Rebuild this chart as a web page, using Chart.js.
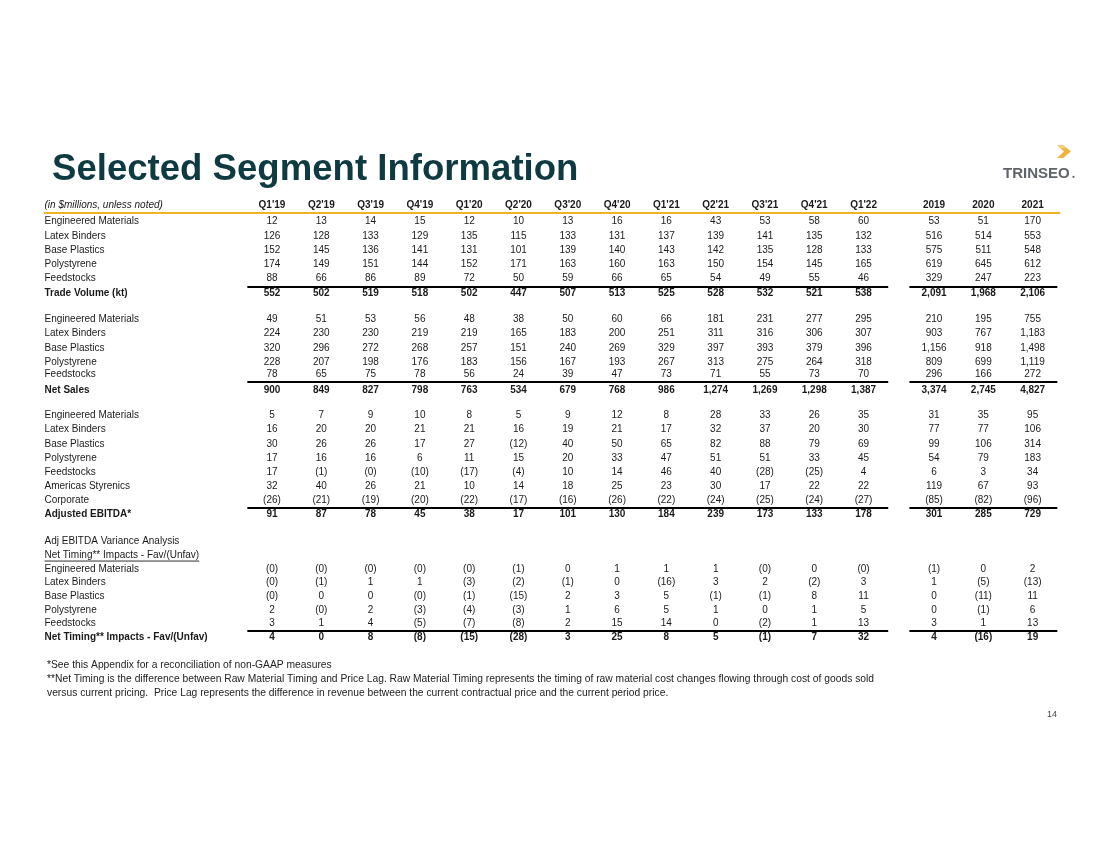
<!DOCTYPE html>
<html><head><meta charset="utf-8">
<script src="https://cdn.jsdelivr.net/npm/chart.js@4.4.1/dist/chart.umd.min.js"></script>
<style>html,body{margin:0;padding:0;background:#fff;}canvas{display:block}</style>
</head><body>
<canvas id="c" width="1100" height="849"></canvas>
<script>
// ---------- DATA ----------
const quarters = ["Q1'19","Q2'19","Q3'19","Q4'19","Q1'20","Q2'20","Q3'20","Q4'20","Q1'21","Q2'21","Q3'21","Q4'21","Q1'22"];
const years = ["2019","2020","2021"];

// Trade volume (kt)
const volEngineered = [12,13,14,15,12,10,13,16,16,43,53,58,60, 53,51,170];
const volLatex      = [126,128,133,129,135,115,133,131,137,139,141,135,132, 516,514,553];
const volBase       = [152,145,136,141,131,101,139,140,143,142,135,128,133, 575,511,548];
const volPoly       = [174,149,151,144,152,171,163,160,163,150,154,145,165, 619,645,612];
const volFeed       = [88,66,86,89,72,50,59,66,65,54,49,55,46, 329,247,223];
const volTotal      = [552,502,519,518,502,447,507,513,525,528,532,521,538, 2091,1968,2106];

// Net sales
const salesEngineered = [49,51,53,56,48,38,50,60,66,181,231,277,295, 210,195,755];
const salesLatex      = [224,230,230,219,219,165,183,200,251,311,316,306,307, 903,767,1183];
const salesBase       = [320,296,272,268,257,151,240,269,329,397,393,379,396, 1156,918,1498];
const salesPoly       = [228,207,198,176,183,156,167,193,267,313,275,264,318, 809,699,1119];
const salesFeed       = [78,65,75,78,56,24,39,47,73,71,55,73,70, 296,166,272];
const salesTotal      = [900,849,827,798,763,534,679,768,986,1274,1269,1298,1387, 3374,2745,4827];

// Adjusted EBITDA
const ebitdaEngineered = [5,7,9,10,8,5,9,12,8,28,33,26,35, 31,35,95];
const ebitdaLatex      = [16,20,20,21,21,16,19,21,17,32,37,20,30, 77,77,106];
const ebitdaBase       = [30,26,26,17,27,-12,40,50,65,82,88,79,69, 99,106,314];
const ebitdaPoly       = [17,16,16,6,11,15,20,33,47,51,51,33,45, 54,79,183];
const ebitdaFeed       = [17,-1,-0,-10,-17,-4,10,14,46,40,-28,-25,4, 6,3,34];
const ebitdaAmericas   = [32,40,26,21,10,14,18,25,23,30,17,22,22, 119,67,93];
const ebitdaCorporate  = [-26,-21,-19,-20,-22,-17,-16,-26,-22,-24,-25,-24,-27, -85,-82,-96];
const ebitdaTotal      = [91,87,78,45,38,17,101,130,184,239,173,133,178, 301,285,729];

// Net timing impacts - Fav/(Unfav)
const timingEngineered = [-0,-0,-0,-0,-0,-1,0,1,1,1,-0,0,-0, -1,0,2];
const timingLatex      = [-0,-1,1,1,-3,-2,-1,0,-16,3,2,-2,3, 1,-5,-13];
const timingBase       = [-0,0,0,-0,-1,-15,2,3,5,-1,-1,8,11, 0,-11,11];
const timingPoly       = [2,-0,2,-3,-4,-3,1,6,5,1,0,1,5, 0,-1,6];
const timingFeed       = [3,1,4,-5,-7,-8,2,15,14,0,-2,1,13, 3,1,13];
const timingTotal      = [4,0,8,-8,-15,-28,3,25,8,5,-1,7,32, 4,-16,19];

const footnotes = [
  "*See this Appendix for a reconciliation of non-GAAP measures",
  "**Net Timing is the difference between Raw Material Timing and Price Lag. Raw Material Timing represents the timing of raw material cost changes flowing through cost of goods sold",
  "versus current pricing.  Price Lag represents the difference in revenue between the current contractual price and the current period price."
];

// ---------- TABLE STRUCTURE ----------
const rows = [
  {label:"Engineered Materials", values:volEngineered},
  {label:"Latex Binders", values:volLatex},
  {label:"Base Plastics", values:volBase},
  {label:"Polystyrene", values:volPoly},
  {label:"Feedstocks", values:volFeed},
  {label:"Trade Volume (kt)", values:volTotal, bold:true},
  {label:"Engineered Materials", values:salesEngineered},
  {label:"Latex Binders", values:salesLatex},
  {label:"Base Plastics", values:salesBase},
  {label:"Polystyrene", values:salesPoly},
  {label:"Feedstocks", values:salesFeed},
  {label:"Net Sales", values:salesTotal, bold:true},
  {label:"Engineered Materials", values:ebitdaEngineered},
  {label:"Latex Binders", values:ebitdaLatex},
  {label:"Base Plastics", values:ebitdaBase},
  {label:"Polystyrene", values:ebitdaPoly},
  {label:"Feedstocks", values:ebitdaFeed},
  {label:"Americas Styrenics", values:ebitdaAmericas},
  {label:"Corporate", values:ebitdaCorporate},
  {label:"Adjusted EBITDA*", values:ebitdaTotal, bold:true},
  {label:"Adj EBITDA Variance Analysis", values:null},
  {label:"Net Timing** Impacts - Fav/(Unfav)", values:null, underline:true},
  {label:"Engineered Materials", values:timingEngineered},
  {label:"Latex Binders", values:timingLatex},
  {label:"Base Plastics", values:timingBase},
  {label:"Polystyrene", values:timingPoly},
  {label:"Feedstocks", values:timingFeed},
  {label:"Net Timing** Impacts - Fav/(Unfav)", values:timingTotal, bold:true}
];

// ---------- LAYOUT ----------
const GAP = 0.43;                       // extra spacing between quarterly and annual blocks (column units)
const columns = quarters.concat(years);
const colPos = columns.map((c,i)=> i < quarters.length ? i : i + GAP);
const rowSlot = [1,2,3,4,5,6.08, 7.92,8.92,9.92,10.92,11.8,12.93,
                 14.7,15.7,16.7,17.7,18.7,19.7,20.7,21.68,
                 23.6,24.6,25.55,26.5,27.45,28.45,29.4,30.38];
const ruleOffset = {5:0.45, 11:0.6, 19:0.42, 27:0.45};
const HEADER_SLOT = -0.15;
const UNIT = 14.15, TOP = 207.5, YMAX = 32;
const XL = 247.35, XR = 1057.3;
const LX = 44.5;
const FONT = '"Liberation Sans", Arial, sans-serif';
const TXT = '#1a1a1a';

function fmt(v){
  const neg = v < 0 || Object.is(v,-0);
  const a = String(Math.abs(v)).replace(/\B(?=(\d{3})+(?!\d))/g, ",");
  return neg ? '(' + a + ')' : a;
}

const datasets = rows.filter(r=>r.values).map((r)=>{
  const idx = rows.indexOf(r);
  return {
    label: r.label,
    data: r.values.map((v,j)=>({x: colPos[j], y: rowSlot[idx], v: v})),
    pointRadius: 0, pointHoverRadius: 0, showLine: false,
    bold: !!r.bold
  };
});

const tablePlugin = {
  id: 'tablePlugin',
  beforeDraw(chart){
    const ctx = chart.ctx;
    ctx.save(); ctx.fillStyle = '#fff'; ctx.fillRect(0,0,chart.width,chart.height); ctx.restore();
  },
  afterDatasetsDraw(chart){
    const ctx = chart.ctx, xs = chart.scales.x, ys = chart.scales.y;
    ctx.save();
    // Title
    ctx.fillStyle = '#0e3a42';
    ctx.font = 'bold 36.6px ' + FONT;
    ctx.textAlign = 'left'; ctx.textBaseline = 'alphabetic';
    ctx.fillText('Selected Segment Information', 52, 180);
    // Logo
    ctx.fillStyle = '#5f6468';
    ctx.font = 'bold 15px ' + FONT;
    ctx.fillText('TRINSEO', 1003, 178);
    ctx.beginPath(); ctx.arc(1073.5, 176.8, 1.1, 0, Math.PI*2); ctx.fill();
    ctx.fillStyle = '#f2b13a';
    ctx.beginPath();
    ctx.moveTo(1057,145); ctx.lineTo(1063,145); ctx.lineTo(1071,151.5); ctx.lineTo(1063,158); ctx.lineTo(1057,158); ctx.lineTo(1064,151.5); ctx.closePath(); ctx.fill();
    ctx.fillStyle = '#f7cf7a';
    ctx.beginPath();
    ctx.moveTo(1057,145); ctx.lineTo(1063,145); ctx.lineTo(1067,148.3); ctx.lineTo(1061,148.3); ctx.closePath(); ctx.fill();

    ctx.textBaseline = 'middle';
    // Header row
    const hy = ys.getPixelForValue(HEADER_SLOT);
    ctx.fillStyle = TXT;
    ctx.font = 'italic 10px ' + FONT;
    ctx.textAlign = 'left';
    ctx.fillText('(in $millions, unless noted)', LX, hy);
    ctx.font = 'bold 10px ' + FONT;
    ctx.textAlign = 'center';
    columns.forEach((c,j)=> ctx.fillText(c, xs.getPixelForValue(colPos[j]), hy));
    // orange rule
    ctx.strokeStyle = '#f0b323'; ctx.lineWidth = 2;
    ctx.beginPath(); ctx.moveTo(44, hy + 7.5); ctx.lineTo(XR + 3, hy + 7.5); ctx.stroke();

    // Row labels
    rows.forEach((r,i)=>{
      const y = ys.getPixelForValue(rowSlot[i]);
      ctx.font = (r.bold ? 'bold ' : '') + '10px ' + FONT;
      ctx.textAlign = 'left';
      ctx.fillStyle = TXT;
      ctx.fillText(r.label, LX, y);
      if (r.underline){
        const w = ctx.measureText(r.label).width;
        ctx.fillRect(LX, y + 5, w, 0.9);
      }
      if (r.bold && r.values){
        const ry = Math.round(ys.getPixelForValue(rowSlot[i] - (ruleOffset[i] || 0.45)));
        ctx.strokeStyle = '#000'; ctx.lineWidth = 2;
        ctx.beginPath();
        ctx.moveTo(xs.getPixelForValue(-0.5), ry); ctx.lineTo(xs.getPixelForValue(quarters.length - 0.5), ry);
        ctx.moveTo(xs.getPixelForValue(colPos[quarters.length] - 0.5), ry); ctx.lineTo(xs.getPixelForValue(colPos[columns.length-1] + 0.5), ry);
        ctx.stroke();
      }
    });

    // Cell values, placed at each dataset point
    chart.data.datasets.forEach((ds, di)=>{
      const meta = chart.getDatasetMeta(di);
      ctx.font = (ds.bold ? 'bold ' : '') + '10px ' + FONT;
      ctx.textAlign = 'center';
      ctx.fillStyle = TXT;
      meta.data.forEach((pt, k)=>{
        ctx.fillText(fmt(ds.data[k].v), pt.x, pt.y);
      });
    });

    // Footnotes
    ctx.font = '10.5px ' + FONT;
    ctx.textAlign = 'left';
    ctx.fillStyle = '#222';
    const sx = 827 / ctx.measureText(footnotes[1]).width;
    const fy = [665, 679.5, 693.5];
    footnotes.forEach((t,i)=>{
      ctx.save(); ctx.translate(47, fy[i]); ctx.scale(sx, 1); ctx.fillText(t, 0, 0); ctx.restore();
    });
    // page number
    ctx.font = '9px ' + FONT; ctx.textAlign = 'center'; ctx.fillStyle = '#444';
    ctx.fillText('14', 1052, 715);
    ctx.restore();
  }
};

new Chart(document.getElementById('c'), {
  type: 'scatter',
  data: { datasets },
  options: {
    responsive: false, animation: false, devicePixelRatio: 1,
    events: [],
    layout: { padding: { left: XL, right: 1100 - XR, top: TOP, bottom: 849 - TOP - YMAX*UNIT } },
    scales: {
      x: { type: 'linear', display: false, min: -0.5, max: colPos[colPos.length-1] + 0.5 },
      y: { type: 'linear', display: false, min: 0, max: YMAX, reverse: true }
    },
    plugins: { legend: { display: false }, tooltip: { enabled: false }, title: { display: false } }
  },
  plugins: [tablePlugin]
});
</script>
</body></html>
